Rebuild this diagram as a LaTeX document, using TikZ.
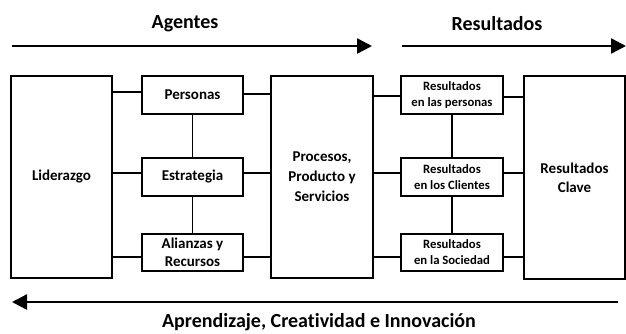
\documentclass[tikz,border=0pt]{standalone}
\usepackage{fontspec}
\setmainfont[Ligatures=NoCommon]{Carlito}
\usetikzlibrary{arrows.meta}
\begin{document}
\begin{tikzpicture}[x=1pt,y=-1pt,
  box/.style={draw,line width=1.8pt,align=center,font=\fontsize{15}{19}\selectfont\bfseries,inner sep=0pt},
  rbox/.style={box,font=\fontsize{12.7}{16}\selectfont\bfseries},
  conn/.style={line width=1.8pt},
  big/.style={line width=2.4pt,-{Triangle[length=15pt,width=15pt]}},
  head/.style={font=\fontsize{20}{24}\selectfont\bfseries}]
\useasboundingbox (0,0) rectangle (626,333);
% boxes
\node[box,minimum width=101pt,minimum height=202pt] (lid) at (61.5,177) {Liderazgo};
\node[box,minimum width=101pt,minimum height=38pt] (per) at (192.5,95) {Personas};
\node[box,minimum width=101pt,minimum height=38pt] (est) at (192.5,177) {Estrategia};
\node[box,minimum width=101pt,minimum height=37pt,font=\fontsize{15}{18}\selectfont\bfseries] (ali) at (192.5,252.5) {Alianzas y\\Recursos};
\node[box,minimum width=102pt,minimum height=202pt,font=\fontsize{15}{20}\selectfont\bfseries] (pro) at (322,177) {Procesos,\\Producto y\\Servicios};
\node[rbox,minimum width=102pt,minimum height=38pt] (rp) at (452,95) {Resultados\\en las personas};
\node[rbox,minimum width=102pt,minimum height=38pt] (rc) at (452,177) {Resultados\\en los Clientes};
\node[rbox,minimum width=102pt,minimum height=37pt] (rs) at (452,252.5) {Resultados\\en la Sociedad};
\node[box,minimum width=101pt,minimum height=203pt] (cla) at (574.5,177.5) {Resultados\\Clave};
% connector anchor points
\coordinate (c1) at ([yshift=3pt]per.west);
\coordinate (c2) at ([yshift=1pt]per.east);
\coordinate (c3) at ([yshift=4pt]est.west);
\coordinate (c4) at ([yshift=4pt]est.east);
\coordinate (c5) at ([yshift=-4.5pt]ali.west);
\coordinate (c6) at ([yshift=-4.5pt]ali.east);
\coordinate (d1) at ([yshift=-1pt]rp.west);
\coordinate (d2) at ([yshift=-2pt]rp.east);
\coordinate (d3) at ([yshift=4pt]rc.west);
\coordinate (d4) at ([yshift=4pt]rc.east);
\coordinate (d5) at ([yshift=-4.5pt]rs.west);
\coordinate (d6) at ([yshift=-4.5pt]rs.east);
% connectors
\draw[conn] (c1) -- (lid.east |- c1);
\draw[conn] (c2) -- (pro.west |- c2);
\draw[conn] (c3) -- (lid.east |- c3);
\draw[conn] (c4) -- (pro.west |- c4);
\draw[conn] (c5) -- (lid.east |- c5);
\draw[conn] (c6) -- (pro.west |- c6);
\draw[conn] (per.south) -- (est.north);
\draw[conn] (est.south) -- (ali.north);
\draw[conn] (d1) -- (pro.east |- d1);
\draw[conn] (d2) -- (cla.west |- d2);
\draw[conn] (d3) -- (pro.east |- d3);
\draw[conn] (d4) -- (cla.west |- d4);
\draw[conn] (d5) -- (pro.east |- d5);
\draw[conn] (d6) -- (cla.west |- d6);
\draw[conn] (rp.south) -- (rc.north);
\draw[conn] (rc.south) -- (rs.north);
% arrows
\coordinate (a1s) at (12,46);
\coordinate (a1e) at (372,46);
\coordinate (a2s) at (402,46);
\coordinate (a2e) at (626,46);
\coordinate (a3s) at (618,302);
\coordinate (a3e) at (12,302);
\draw[big] (a1s) -- (a1e);
\draw[big] (a2s) -- (a2e);
\draw[big] (a3s) -- (a3e);
% headings
\node[head] (ag) at (185,24) {Agentes};
\node[head] (re) at (497,24) {Resultados};
\node[head] (ap) at (319,322) {Aprendizaje, Creatividad e Innovación};
\end{tikzpicture}
\end{document}
